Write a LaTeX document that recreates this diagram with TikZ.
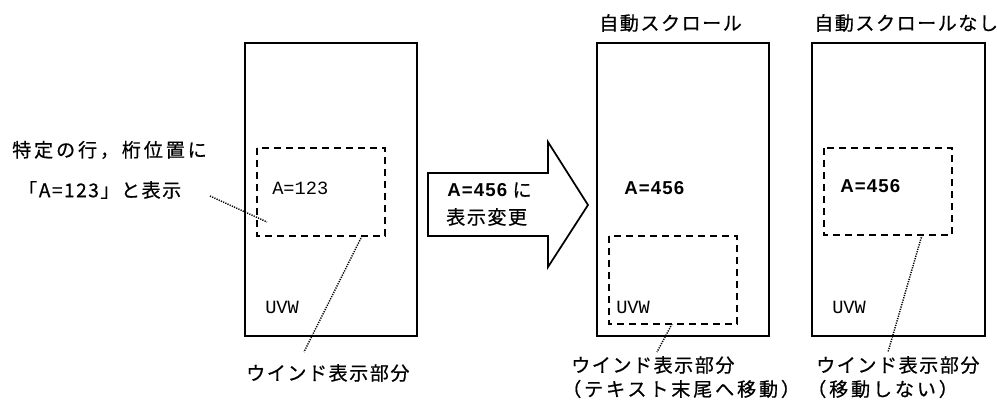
\documentclass[tikz,border=0pt]{standalone}
\usepackage{fontspec}
\setmainfont{Liberation Sans}
\newfontfamily\jp[LetterSpace=8,FakeBold=0.6]{Noto Sans CJK JP}
\newfontfamily\jpw[LetterSpace=15,FakeBold=0.6]{Noto Sans CJK JP}
\newfontfamily\mono{Liberation Mono}
\newfontfamily\bsans[LetterSpace=6]{Liberation Sans}
\begin{document}
\begin{tikzpicture}[x=0.75pt,y=-0.75pt,
  frame/.style={line width=1.3pt},
  dashbox/.style={line width=1.1pt,dash pattern=on 5.5pt off 3.5pt},
  leader/.style={line width=1.1pt,dash pattern=on 0.9pt off 0.9pt},
  jtxt/.style={anchor=west,inner sep=0pt,font=\jp\fontsize{14.3pt}{16pt}\selectfont},
  jwtxt/.style={anchor=west,inner sep=0pt,font=\jpw\fontsize{14.3pt}{16pt}\selectfont},
  mtxt/.style={anchor=west,inner sep=0pt,font=\mono\fontsize{14pt}{16pt}\selectfont},
  btxt/.style={anchor=west,inner sep=0pt,font=\bsans\bfseries\fontsize{14pt}{16pt}\selectfont},
  arrowshape/.style={line width=1.3pt}]
\useasboundingbox (0,0) rectangle (997,403);

% ---------- left window ----------
\draw[frame] (245,43) rectangle (417,336);
\draw[dashbox] (257,148) rectangle (385,236);
\node[mtxt] (a123) at (272,188) {A=123};
\node[mtxt] (uvw1) at (265,307) {UVW};
\node[jwtxt] (lab1a) at (12,150) {特定の行，桁位置に};
\node[jtxt] (lab1b) at (18,190) {「A=123」と表示};
\coordinate (l1s) at (210,196);
\coordinate (l1e) at (267,222);
\draw[leader] (l1s) -- (l1e);
\coordinate (d1b) at (362,236);
\node[jtxt] (lab1c) at (246,373) {ウインド表示部分};
\coordinate (l2e) at (304,352);
\draw[leader] (d1b) -- (l2e);

% ---------- arrow ----------
\draw[arrowshape] (428,173) -- (548,173) -- (548,142) -- (588,205) -- (548,267) -- (548,236) -- (428,236) -- cycle;
\node[anchor=west,inner sep=0pt] (arr1) at (447,190)
  {{\bsans\bfseries\fontsize{14pt}{16pt}\selectfont A=456}\hspace{4pt}{\jp\fontsize{14.3pt}{16pt}\selectfont に}};
\node[jtxt] (arr2) at (446,217) {表示変更};

% ---------- auto scroll ----------
\node[jtxt] (title2) at (599,23) {自動スクロール};
\draw[frame] (597,43) rectangle (769,336);
\draw[dashbox] (609,236) rectangle (737,324);
\node[btxt] (a456b) at (624,188) {A=456};
\node[mtxt] (uvw2) at (616,307) {UVW};
\coordinate (d2b) at (672,324);
\coordinate (l3e) at (657,352);
\draw[leader] (d2b) -- (l3e);
\node[jtxt] (lab2a) at (571,365) {ウインド表示部分};
\node[jwtxt] (lab2b) at (562,389) {（テキスト末尾へ移動）};

% ---------- no auto scroll ----------
\node[jtxt] (title3) at (814,23) {自動スクロールなし};
\draw[frame] (812,43) rectangle (985,336);
\draw[dashbox] (824,148) rectangle (952,235);
\node[btxt] (a456c) at (840,186) {A=456};
\node[mtxt] (uvw3) at (832,307) {UVW};
\coordinate (d3b) at (922,235);
\coordinate (l4e) at (888,352);
\draw[leader] (d3b) -- (l4e);
\node[jtxt] (lab3a) at (816,365) {ウインド表示部分};
\node[jwtxt] (lab3b) at (807,389) {（移動しない）};
\end{tikzpicture}
\end{document}
